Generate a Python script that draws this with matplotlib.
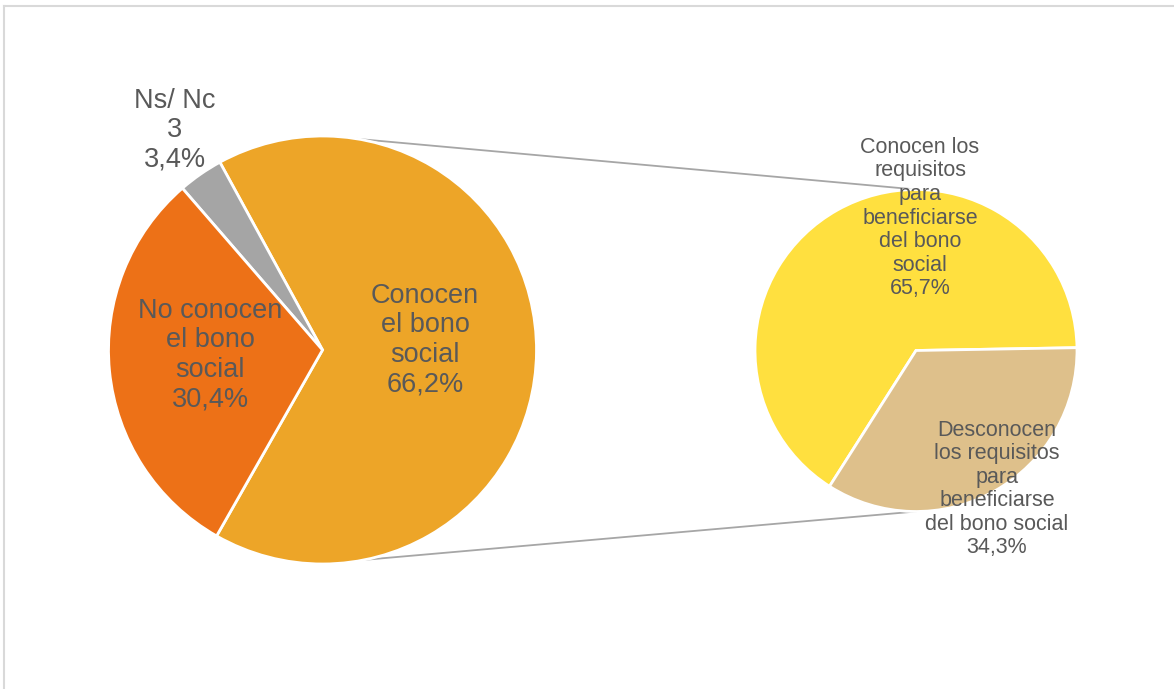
import numpy as np
import matplotlib
matplotlib.use("Agg")
import matplotlib.pyplot as plt
from matplotlib.lines import Line2D

plt.rcParams['font.family'] = ['Liberation Sans', 'DejaVu Sans']

# main pie
main_labels = ["Conocen\nel bono\nsocial", "Ns/ Nc\n3", "No conocen\nel bono\nsocial"]
main_values = [66.2, 3.4, 30.4]
main_colors = ["#EDA528", "#A5A5A5", "#ED7117"]

# secondary pie (breakdown of "Conocen")
sub_labels = ["Conocen los\nrequisitos\npara\nbeneficiarse\ndel bono\nsocial",
              "Desconocen\nlos requisitos\npara\nbeneficiarse\ndel bono social"]
sub_values = [65.7, 34.3]
sub_colors = ["#FFE03F", "#DEC08B"]

text_color = "#595959"

W, H = 1174, 689
fig = plt.figure(figsize=(W / 100, H / 100), dpi=100)
ax = fig.add_axes([0, 0, 1, 1])

c1, r1 = (322.5, H - 350), 214
c2, r2 = (916, H - 350.5), 161

start1 = -main_values[0] / 100 * 180 - 0.5
ax.pie(main_values, colors=main_colors, center=c1, radius=r1,
       startangle=start1, counterclock=True, frame=True,
       wedgeprops=dict(edgecolor="white", linewidth=2))

ax.pie(sub_values, colors=sub_colors, center=c2, radius=r2,
       startangle=1.0, counterclock=True, frame=True,
       wedgeprops=dict(edgecolor="white", linewidth=2))
ax.set_xlim(0, W)
ax.set_ylim(0, H)
ax.set_aspect("equal")
ax.axis("off")

# connector lines
for ang, sign in [(80.5, 1), (-78.7, -1)]:
    a = np.deg2rad(ang)
    x0 = c1[0] + r1 * np.cos(a)
    y0 = c1[1] + r1 * np.sin(a)
    ax.plot([x0, c2[0]], [y0, c2[1] + sign * r2], color="#A6A6A6", lw=1.3, zorder=0)

# labels
def pct(v):
    return f"{v:.1f}%".replace(".", ",")

big = 19.5
ax.text(425, H - 340, main_labels[0] + "\n" + pct(main_values[0]), ha="center", va="center",
        fontsize=big, color=text_color, linespacing=1.18)
ax.text(210, H - 355, main_labels[2] + "\n" + pct(main_values[2]), ha="center", va="center",
        fontsize=big, color=text_color, linespacing=1.18)
ax.text(175, H - 130, main_labels[1] + "\n" + pct(main_values[1]), ha="center", va="center",
        fontsize=big, color=text_color, linespacing=1.15)

small = 15.5
ax.text(920, H - 218, sub_labels[0] + "\n" + pct(sub_values[0]), ha="center", va="center",
        fontsize=small, color=text_color, linespacing=1.16)
ax.text(997, H - 489, sub_labels[1] + "\n" + pct(sub_values[1]), ha="center", va="center",
        fontsize=small, color=text_color, linespacing=1.16)

# chart frame
fig.add_artist(Line2D([4 / W, 4 / W], [0, 1 - 6 / H], color="#D9D9D9", lw=1.5))
fig.add_artist(Line2D([4 / W, 1], [1 - 6 / H, 1 - 6 / H], color="#D9D9D9", lw=1.5))

fig.savefig("out.png", dpi=100, facecolor="white")
